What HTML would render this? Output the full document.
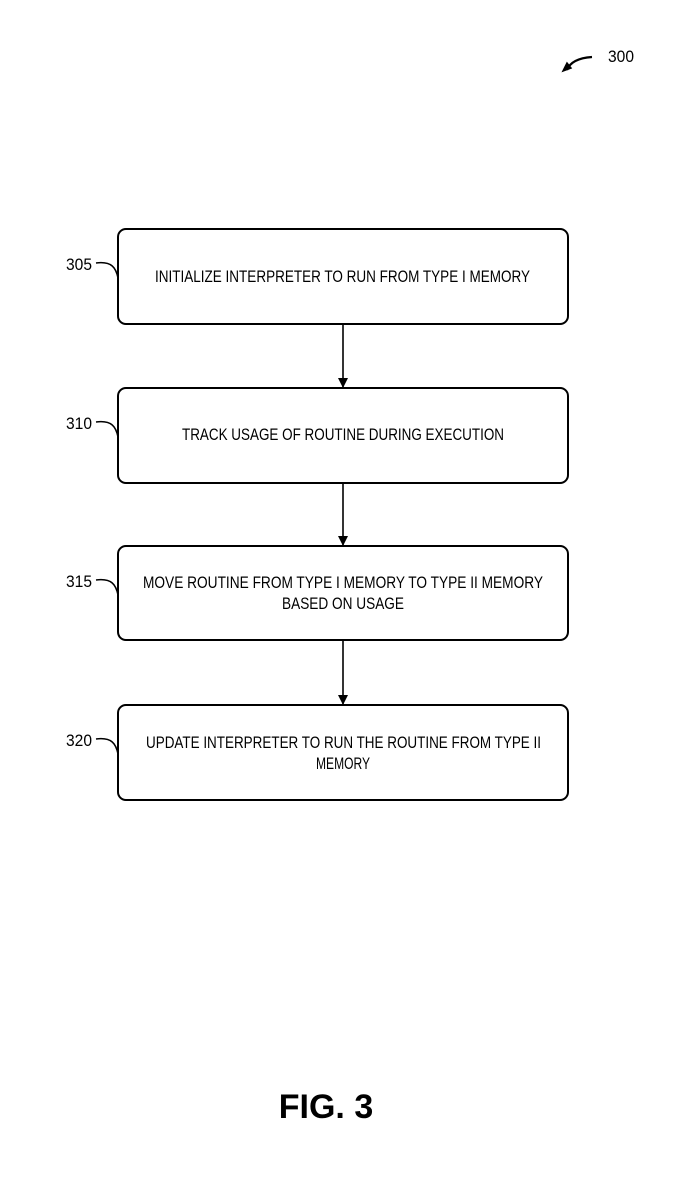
<!DOCTYPE html>
<html><head><style>body{margin:0;background:#fff}svg{display:block}</style></head>
<body>
<svg width="694" height="1189" viewBox="0 0 694 1189" xmlns="http://www.w3.org/2000/svg" font-family="Liberation Sans, sans-serif" fill="none" stroke="#000">
<defs><marker id="a" markerWidth="10" markerHeight="10" refX="9" refY="5" orient="auto" markerUnits="userSpaceOnUse"><path d="M0,0 L10,5 L0,10 z" fill="#000" stroke="none"/></marker></defs>
<g stroke-width="2">
<rect x="118" y="229" width="450" height="95" rx="8"/>
<rect x="118" y="388" width="450" height="95" rx="8"/>
<rect x="118" y="546" width="450" height="94" rx="8"/>
<rect x="118" y="705" width="450" height="95" rx="8"/>
</g>
<g stroke-width="1.6" marker-end="url(#a)">
<line x1="343" y1="324" x2="343" y2="387"/>
<line x1="343" y1="483" x2="343" y2="545"/>
<line x1="343" y1="640" x2="343" y2="704"/>
</g>
<g stroke-width="1.5">
<path d="M96,263 C112,261 116,268 118,278"/>
<path d="M96,422 C112,420 116,427 118,437"/>
<path d="M96,580 C112,578 116,585 118,595"/>
<path d="M96,739 C112,737 116,744 118,754"/>
<path d="M567,70 C570,62 578,58 592,57" stroke-width="2.2"/>
<path d="M563,71 L567,63 L571,68 z" fill="#000"/>
</g>
<g fill="#000" stroke="none" font-size="17">
<text x="66" y="270" textLength="26" lengthAdjust="spacingAndGlyphs">305</text>
<text x="66" y="429" textLength="26" lengthAdjust="spacingAndGlyphs">310</text>
<text x="66" y="587" textLength="26" lengthAdjust="spacingAndGlyphs">315</text>
<text x="66" y="746" textLength="26" lengthAdjust="spacingAndGlyphs">320</text>
<text x="608" y="62" textLength="26" lengthAdjust="spacingAndGlyphs">300</text>
<text x="155" y="282" textLength="375" lengthAdjust="spacingAndGlyphs">INITIALIZE INTERPRETER TO RUN FROM TYPE I MEMORY</text>
<text x="182" y="440" textLength="322" lengthAdjust="spacingAndGlyphs">TRACK USAGE OF ROUTINE DURING EXECUTION</text>
<text x="143" y="588" textLength="400" lengthAdjust="spacingAndGlyphs">MOVE ROUTINE FROM TYPE I MEMORY TO TYPE II MEMORY</text>
<text x="343" y="609" text-anchor="middle" textLength="122" lengthAdjust="spacingAndGlyphs">BASED ON USAGE</text>
<text x="146" y="748" textLength="395" lengthAdjust="spacingAndGlyphs">UPDATE INTERPRETER TO RUN THE ROUTINE FROM TYPE II</text>
<text x="343" y="769" text-anchor="middle" textLength="54" lengthAdjust="spacingAndGlyphs">MEMORY</text>
<text x="326" y="1118" text-anchor="middle" font-size="34" font-weight="bold">FIG. 3</text>
</g>
</svg>
</body></html>
